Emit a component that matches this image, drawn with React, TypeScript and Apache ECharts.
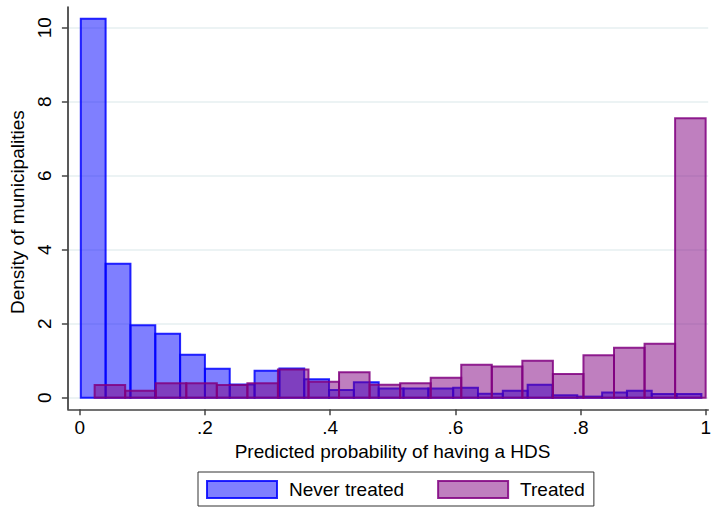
import React, { useEffect, useRef } from "react";
import * as echarts from "echarts";

// Histogram bins: left edge of the first bin, bin width, and density per bin
const neverTreatedStart = 0.0016;
const neverTreatedBinWidth = 0.03966;
const neverTreatedDensity = [
  10.24, 3.62, 1.96, 1.73, 1.16, 0.78, 0.36, 0.73, 0.79, 0.5, 0.21, 0.42, 0.25,
  0.25, 0.25, 0.27, 0.11, 0.19, 0.35, 0.065, 0.03, 0.14, 0.19, 0.1, 0.1,
];

const treatedStart = 0.0237;
const treatedBinWidth = 0.04881;
const treatedDensity = [
  0.34, 0.19, 0.39, 0.39, 0.34, 0.39, 0.76, 0.43, 0.69, 0.35, 0.39, 0.54, 0.89,
  0.84, 1.0, 0.64, 1.15, 1.35, 1.46, 7.55,
];

const xTickValues = [0, 0.2, 0.4, 0.6, 0.8, 1];
const xTickLabels = ["0", ".2", ".4", ".6", ".8", "1"];
const yTickValues = [0, 2, 4, 6, 8, 10];
const yTickLabels = ["0", "2", "4", "6", "8", "10"];

const seriesNames = ["Never treated", "Treated"];

const FONT = "'Liberation Sans', Arial, Helvetica, sans-serif";
const BLUE_FILL = "rgba(0,0,255,0.5)";
const BLUE_EDGE = "rgba(0,0,255,0.85)";
const PURPLE_FILL = "rgba(128,0,128,0.5)";
const PURPLE_EDGE = "rgba(128,0,128,0.85)";

function toBins(start: number, width: number, density: number[]) {
  return density.map((d, i) => [start + i * width, start + (i + 1) * width, d]);
}

function barRenderer(fill: string, stroke: string) {
  return (_params: any, api: any) => {
    const x0 = api.value(0);
    const x1 = api.value(1);
    const d = api.value(2);
    const top = api.coord([x0, d]);
    const bottom = api.coord([x1, 0]);
    return {
      type: "rect",
      shape: {
        x: top[0],
        y: top[1],
        width: bottom[0] - top[0],
        height: bottom[1] - top[1],
      },
      style: { fill, stroke, lineWidth: 2 },
    };
  };
}

function labelFor(values: number[], labels: string[]) {
  return (v: number) => {
    const i = values.findIndex((t) => Math.abs(t - v) < 1e-9);
    return i >= 0 ? labels[i] : "";
  };
}

export default function App() {
  const ref = useRef<HTMLDivElement>(null);

  useEffect(() => {
    if (!ref.current) return;
    const chart = echarts.init(ref.current, undefined, { renderer: "svg" });

    const option: any = {
      animation: false,
      backgroundColor: "#ffffff",
      textStyle: { fontFamily: FONT },
      grid: { left: 67.5, right: 0, top: 7, bottom: 98.7 },
      xAxis: {
        type: "value",
        min: -0.019,
        max: 1.004,
        name: "Predicted probability of having a HDS",
        nameLocation: "middle",
        nameGap: 29,
        nameTextStyle: {
          fontSize: 19,
          color: "#000",
          fontFamily: FONT,
          padding: [0, 0, 0, 9],
        },
        axisLine: { show: true, onZero: false, lineStyle: { color: "#444", width: 1.5 } },
        axisTick: {
          show: true,
          length: 6,
          customValues: xTickValues,
          lineStyle: { color: "#444", width: 1.5 },
        },
        axisLabel: {
          customValues: xTickValues,
          formatter: labelFor(xTickValues, xTickLabels),
          fontSize: 19,
          color: "#000",
          margin: 9,
          fontFamily: FONT,
        },
        splitLine: { show: false },
      },
      yAxis: {
        type: "value",
        min: -0.3135,
        max: 10.56,
        name: "Density of municipalities",
        nameLocation: "middle",
        nameRotate: 90,
        nameGap: 36,
        nameTextStyle: {
          fontSize: 19,
          color: "#000",
          fontFamily: FONT,
          padding: [0, 8, 0, 0],
        },
        axisLine: { show: true, onZero: false, lineStyle: { color: "#222", width: 1.5 } },
        axisTick: {
          show: true,
          length: 6,
          customValues: yTickValues,
          lineStyle: { color: "#444", width: 1.5 },
        },
        axisLabel: {
          customValues: yTickValues,
          formatter: labelFor(yTickValues, yTickLabels),
          rotate: 90,
          fontSize: 19,
          color: "#000",
          margin: 14,
          fontFamily: FONT,
        },
        splitLine: { show: true, lineStyle: { color: "#e6eff0", width: 1.5 } },
      },
      legend: {
        left: 198,
        top: 472,
        orient: "horizontal",
        padding: [8, 9, 7, 8],
        itemGap: 33,
        itemWidth: 70,
        itemHeight: 17,
        borderColor: "#333",
        borderWidth: 1,
        backgroundColor: "#fff",
        textStyle: {
          fontSize: 19,
          color: "#000",
          fontFamily: FONT,
          padding: [0, 0, 0, 7],
        },
        data: [
          {
            name: seriesNames[0],
            icon: "rect",
            itemStyle: { color: BLUE_FILL, borderColor: BLUE_EDGE, borderWidth: 2 },
          },
          {
            name: seriesNames[1],
            icon: "rect",
            itemStyle: { color: PURPLE_FILL, borderColor: PURPLE_EDGE, borderWidth: 2 },
          },
        ],
      },
      series: [
        {
          name: seriesNames[0],
          type: "custom",
          renderItem: barRenderer(BLUE_FILL, BLUE_EDGE),
          itemStyle: { color: BLUE_FILL, borderColor: BLUE_EDGE, borderWidth: 2 },
          encode: { x: [0, 1], y: 2 },
          data: toBins(neverTreatedStart, neverTreatedBinWidth, neverTreatedDensity),
        },
        {
          name: seriesNames[1],
          type: "custom",
          renderItem: barRenderer(PURPLE_FILL, PURPLE_EDGE),
          itemStyle: { color: PURPLE_FILL, borderColor: PURPLE_EDGE, borderWidth: 2 },
          encode: { x: [0, 1], y: 2 },
          data: toBins(treatedStart, treatedBinWidth, treatedDensity),
        },
      ],
    };

    chart.setOption(option);
    return () => chart.dispose();
  }, []);

  return (
    <div
      ref={ref}
      style={{ position: "fixed", left: 0, top: 0, width: 714, height: 508 }}
    />
  );
}
